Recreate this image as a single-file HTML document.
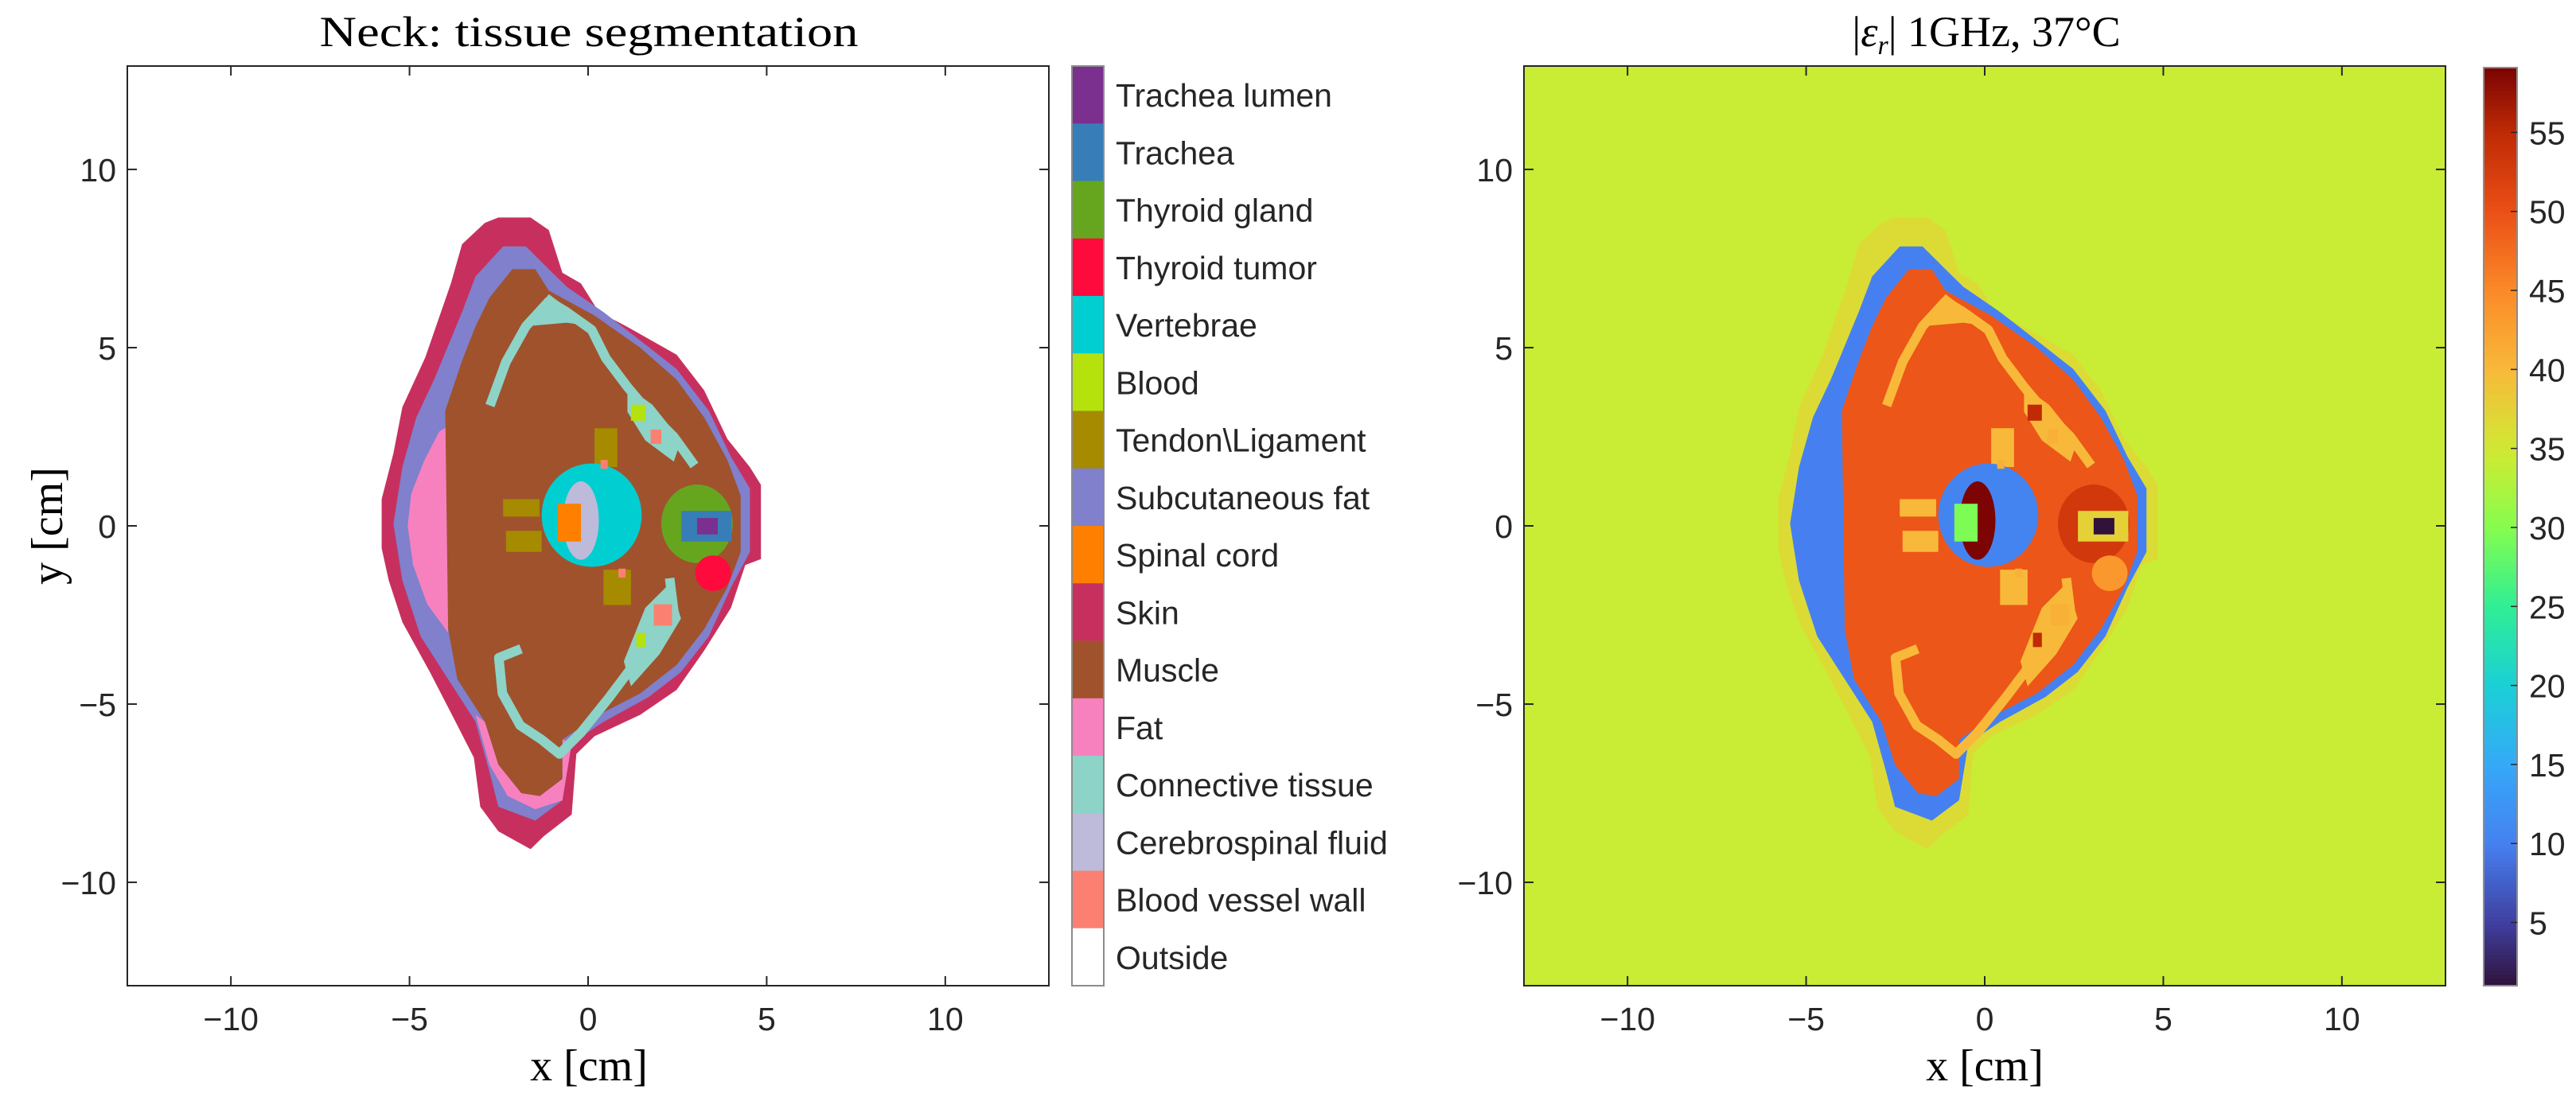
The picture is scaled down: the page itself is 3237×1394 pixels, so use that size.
<!DOCTYPE html>
<html><head><meta charset="utf-8"><style>
html,body{margin:0;padding:0;background:#fff}
svg{display:block}
.tk{font-family:"Liberation Sans",sans-serif;font-size:41px;fill:#262626}
.sf{font-family:"Liberation Serif",serif;fill:#000}
</style></head><body>
<svg id="fig" width="3237" height="1394" viewBox="0 0 3237 1394" xmlns="http://www.w3.org/2000/svg">
<g id="left"></g>
<g id="right"></g>
<text class="sf" x="740" y="58" font-size="54" text-anchor="middle" textLength="677" lengthAdjust="spacingAndGlyphs">Neck: tissue segmentation</text>
<text class="sf" x="2496" y="58" font-size="54" text-anchor="middle">|<tspan font-style="italic">ε</tspan><tspan font-style="italic" font-size="34" dy="10">r</tspan><tspan dy="-10">| 1GHz, 37°C</tspan></text>
<text class="sf" x="740" y="1358" font-size="56" text-anchor="middle">x [cm]</text>
<text class="sf" x="2494" y="1358" font-size="56" text-anchor="middle">x [cm]</text>
<text class="sf" x="0" y="0" font-size="56" text-anchor="middle" transform="translate(78,661) rotate(-90)">y [cm]</text>
</svg>
<script>
const tissueNames=["Trachea lumen","Trachea","Thyroid gland","Thyroid tumor","Vertebrae","Blood","Tendon\\Ligament","Subcutaneous fat","Spinal cord","Skin","Muscle","Fat","Connective tissue","Cerebrospinal fluid","Blood vessel wall","Outside"];
const tissueColors=["#7b2f8e","#377eb8","#66a61e","#ff0a3c","#00ced1","#b5e20c","#a68a00","#8080cc","#ff7f00","#c7305e","#a0522d","#f781bf","#8dd3c7","#bebada","#fb8072","#ffffff"];
const permittivity=[1,37.5,53,43.5,10.5,55,40,10,29.5,36.5,49.5,10,40,59,41,34.3];
const xTicks=[-10,-5,0,5,10];
const yTicks=[-10,-5,0,5,10];
const cbTicks=[5,10,15,20,25,30,35,40,45,50,55];
const cbRange=[1,59.1];
const axRange=[-12.9,12.9];
const skinPoly=[[-2.51,8.65],[-1.61,8.65],[-1.1,8.3],[-0.72,7.1],[-0.2,6.8],[0.3,6.0],[1.07,5.6],[2.48,4.8],[3.25,3.8],[3.9,2.44],[4.53,1.65],[4.84,1.15],[4.84,-0.93],[4.4,-1.1],[4.0,-2.3],[3.25,-3.5],[2.48,-4.6],[1.46,-5.3],[0.18,-5.9],[-0.33,-6.4],[-0.46,-8.1],[-1.23,-8.7],[-1.61,-9.07],[-2.51,-8.57],[-3.02,-7.88],[-3.2,-6.5],[-3.71,-5.5],[-4.43,-4.1],[-5.2,-2.7],[-5.58,-1.53],[-5.78,-0.63],[-5.78,0.75],[-5.45,2.04],[-5.2,3.33],[-4.56,4.72],[-3.84,6.8],[-3.53,7.9],[-2.89,8.5]];
const subcutPoly=[[-2.38,7.84],[-1.74,7.84],[-1.1,7.2],[-0.59,6.7],[0.43,6.0],[1.46,5.2],[2.48,4.4],[3.38,3.23],[4.0,1.94],[4.53,1.05],[4.53,-0.73],[4.0,-1.73],[3.38,-3.1],[2.6,-4.1],[1.7,-4.8],[0.43,-5.5],[-0.46,-6.1],[-0.72,-7.7],[-1.48,-8.27],[-2.51,-7.88],[-2.76,-6.9],[-3.15,-5.5],[-3.92,-4.3],[-4.69,-3.1],[-5.2,-1.53],[-5.45,0.06],[-5.2,1.65],[-4.81,3.04],[-4.3,4.13],[-3.53,6.0],[-3.15,7.0]];
const fatLeftPoly=[[-4.17,2.64],[-4.6,1.8],[-4.95,0.9],[-5.05,0],[-4.9,-1.1],[-4.5,-2.2],[-3.92,-3.0],[-3.8,0],[-3.92,2.8]];
const fatBottomPoly=[[-3.15,-5.3],[-2.76,-6.7],[-2.25,-7.58],[-1.48,-7.95],[-0.72,-7.7],[-0.46,-6.1],[-0.72,-6.0],[-0.72,-7.1],[-1.35,-7.58],[-1.87,-7.5],[-2.51,-6.7],[-2.89,-5.5]];
const musclePoly=[[-2.12,7.2],[-1.48,7.2],[-1.1,6.6],[0.18,5.9],[1.46,5.0],[2.48,4.1],[3.25,3.04],[3.9,1.85],[4.27,0.85],[4.27,-0.73],[3.9,-1.73],[3.25,-2.9],[2.48,-3.9],[1.46,-4.7],[0.3,-5.3],[-0.72,-6.0],[-0.72,-7.1],[-1.35,-7.58],[-1.87,-7.5],[-2.51,-6.7],[-2.89,-5.5],[-3.66,-4.3],[-3.92,-2.9],[-4.0,3.23],[-3.53,4.63],[-3.15,5.6],[-2.76,6.4]];
const connLineTop=[[-2.7,3.5],[-2.3,4.6],[-1.74,5.6],[-1.1,6.3],[-0.6,6.0],[0.1,5.5],[0.5,4.7],[1.1,3.9],[1.6,3.3],[2.4,2.5],[2.9,1.8]];
const connLineBottom=[[-2.0,-3.5],[-2.5,-3.7],[-2.4,-4.7],[-1.9,-5.6],[-1.3,-6.0],[-0.8,-6.4],[-0.2,-5.8],[0.6,-4.8],[1.2,-4.0],[1.7,-3.3],[2.4,-2.4],[2.3,-1.6]];
const connTopLobe=[[1.1,3.9],[1.8,3.4],[2.6,2.4],[2.4,1.8],[1.6,2.4],[1.1,3.2]];
const connBottomLobe=[[1.0,-3.8],[1.6,-2.3],[2.3,-1.6],[2.6,-2.6],[2.0,-3.6],[1.2,-4.5]];
const connTopWedge=[[-1.74,5.6],[-1.1,6.5],[0.1,5.6],[-0.6,5.7]];
const tendonRects=[[0.18,2.74,0.82,1.65],[-2.38,0.75,-1.36,0.26],[-2.3,-0.14,-1.3,-0.73],[0.43,-1.23,1.2,-2.22]];
const vertebraeEll=[0.1,0.3,1.4,1.45];
const csfEll=[-0.2,0.15,0.5,1.1];
const cordRect=[-0.85,0.62,-0.2,-0.44];
const thyroidEll=[3.05,0.06,1.0,1.1];
const tracheaRect=[2.61,0.42,4.02,-0.44];
const lumenRect=[3.05,0.22,3.63,-0.24];
const tumorEll=[3.5,-1.33,0.5,0.5];
const bloodRects=[[1.2,3.4,1.6,2.95],[1.35,-3.0,1.6,-3.4]];
const vesselRects=[[1.75,2.7,2.05,2.3],[1.84,-2.2,2.35,-2.8],[0.35,1.85,0.55,1.6],[0.85,-1.2,1.05,-1.45]];

const NS="http://www.w3.org/2000/svg";
const cmapStops=[[1,"#30123b"],[5,"#4040a0"],[10,"#4680f0"],[15,"#35a9f8"],[20,"#1bd0d5"],[25,"#30ee95"],[30,"#85fd4e"],[34.3,"#c9ec34"],[36,"#d8e035"],[40,"#f8b93a"],[45,"#fb8a28"],[50,"#ea5016"],[55,"#c02a05"],[59.1,"#7a0403"]];
function hx(c){return [parseInt(c.slice(1,3),16),parseInt(c.slice(3,5),16),parseInt(c.slice(5,7),16)];}
function cmap(v){
  if(v<=cmapStops[0][0])return cmapStops[0][1];
  for(let i=1;i<cmapStops.length;i++){
    if(v<=cmapStops[i][0]){const a=cmapStops[i-1],b=cmapStops[i];const t=(v-a[0])/(b[0]-a[0]);
      const A=hx(a[1]),B=hx(b[1]);return "rgb("+A.map((q,k)=>Math.round(q+(B[k]-q)*t)).join(",")+")";}
  }
  return cmapStops[cmapStops.length-1][1];
}
function mk(tag,attrs,parent){const e=document.createElementNS(NS,tag);for(const k in attrs)e.setAttribute(k,attrs[k]);parent.appendChild(e);return e;}
function makeAxes(g,left,colorOf,prefix,bg){
  const top=83,bottom=1239,w=1158;
  const X=x=>left+(x-axRange[0])/(axRange[1]-axRange[0])*w;
  const Y=y=>bottom-(y-axRange[0])/(axRange[1]-axRange[0])*(bottom-top);
  const bgR=mk("rect",{x:left,y:top,width:w,height:bottom-top,fill:bg},g);
  
  
  const pts=a=>a.map(p=>X(p[0]).toFixed(1)+","+Y(p[1]).toFixed(1)).join(" ");
  const poly=(arr,ti,nm)=>{const e=mk("polygon",{points:pts(arr),fill:colorOf(ti)},g);
    
    };
  const ell=(a,ti,nm)=>{const e=mk("ellipse",{cx:X(a[0]),cy:Y(a[1]),rx:X(a[2])-X(0),ry:Y(0)-Y(a[3]),fill:colorOf(ti)},g);
    
    };
  const rct=(a,ti,nm)=>{const e=mk("rect",{x:X(a[0]),y:Y(a[1]),width:X(a[2])-X(a[0]),height:Y(a[3])-Y(a[1]),fill:colorOf(ti)},g);
    
    };
  const line=(arr,ti,nm)=>{const e=mk("polyline",{points:pts(arr),fill:"none",stroke:colorOf(ti),"stroke-width":12,"stroke-linejoin":"round","stroke-linecap":"square"},g);
    
    };
  const T=n=>tissueNames.indexOf(n);
  poly(skinPoly,T("Skin"),"skin-region");
  poly(subcutPoly,T("Subcutaneous fat"),"subcutaneous-fat-region");
  poly(fatLeftPoly,T("Fat"),"fat-left-region");
  poly(fatBottomPoly,T("Fat"),"fat-bottom-region");
  poly(musclePoly,T("Muscle"),"muscle-region");
  line(connLineTop,T("Connective tissue"),"connective-tissue-top");
  line(connLineBottom,T("Connective tissue"),"connective-tissue-bottom");
  poly(connTopLobe,T("Connective tissue"),"connective-tissue-top-lobe");
  poly(connBottomLobe,T("Connective tissue"),"connective-tissue-bottom-lobe");
  poly(connTopWedge,T("Connective tissue"),"connective-tissue-wedge");
  tendonRects.forEach(r=>rct(r,T("Tendon\\Ligament"),"tendon-region"));
  ell(vertebraeEll,T("Vertebrae"),"vertebrae-region");
  ell(csfEll,T("Cerebrospinal fluid"),"csf-region");
  rct(cordRect,T("Spinal cord"),"spinal-cord-region");
  ell(thyroidEll,T("Thyroid gland"),"thyroid-gland-region");
  rct(tracheaRect,T("Trachea"),"trachea-region");
  rct(lumenRect,T("Trachea lumen"),"trachea-lumen-region");
  ell(tumorEll,T("Thyroid tumor"),"thyroid-tumor-region");
  bloodRects.forEach(r=>rct(r,T("Blood"),"blood-region"));
  vesselRects.forEach(r=>rct(r,T("Blood vessel wall"),"blood-vessel-wall-region"));
  const fr=mk("rect",{x:left,y:top,width:w,height:bottom-top,fill:"none",stroke:"#262626","stroke-width":2},g);
  
  
  xTicks.forEach(v=>{
    mk("line",{x1:X(v),x2:X(v),y1:bottom,y2:bottom-12,stroke:"#262626","stroke-width":2},g);
    mk("line",{x1:X(v),x2:X(v),y1:top,y2:top+12,stroke:"#262626","stroke-width":2},g);
    const t=mk("text",{x:X(v),y:1295,"text-anchor":"middle",class:"tk"},g);t.textContent=(v<0?"\u2212":"")+Math.abs(v);
    
    
  });
  yTicks.forEach(v=>{
    mk("line",{x1:left,x2:left+12,y1:Y(v),y2:Y(v),stroke:"#262626","stroke-width":2},g);
    mk("line",{x1:left+w,x2:left+w-12,y1:Y(v),y2:Y(v),stroke:"#262626","stroke-width":2},g);
    const t=mk("text",{x:left-14,y:Y(v)+15,"text-anchor":"end",class:"tk"},g);t.textContent=(v<0?"\u2212":"")+Math.abs(v);
    
    
  });
}
const L=document.getElementById("left"),R=document.getElementById("right");
makeAxes(L,160,i=>tissueColors[i],"left","#ffffff");
makeAxes(R,1915,i=>cmap(permittivity[i]),"right",cmap(permittivity[tissueNames.indexOf("Outside")]));
(function(){
  const x=1347,w=40,top=83,bottom=1239,n=tissueNames.length,h=(bottom-top)/n;
  tissueNames.forEach((nm,i)=>{
    const r=mk("rect",{x:x,y:top+i*h,width:w,height:h+0.5,fill:tissueColors[i]},L);
    
    
    const t=mk("text",{x:1402,y:top+i*h+h/2+15,class:"tk"},L);t.textContent=nm;
    
    
  });
  const f=mk("rect",{x:x,y:top,width:w,height:bottom-top,fill:"none",stroke:"#8c8c8c","stroke-width":2},L);
  
  
})();
(function(){
  const x=3121,w=42,top=85,bottom=1239,N=240,h=(bottom-top)/N;
  const Yc=v=>bottom-(v-cbRange[0])/(cbRange[1]-cbRange[0])*(bottom-top);
  for(let i=0;i<N;i++){
    const v=cbRange[0]+(i+0.5)/N*(cbRange[1]-cbRange[0]);
    const r=mk("rect",{x:x,y:bottom-(i+1)*h,width:w,height:h+0.6,fill:cmap(v)},R);
    
    
  }
  const f=mk("rect",{x:x,y:top,width:w,height:bottom-top,fill:"none",stroke:"#8c8c8c","stroke-width":2},R);
  
  
  cbTicks.forEach(v=>{
    mk("line",{x1:x+w,x2:x+w-8,y1:Yc(v),y2:Yc(v),stroke:"#262626","stroke-width":1.5},R);
    const t=mk("text",{x:3178,y:Yc(v)+15,class:"tk"},R);t.textContent=v;
    
    
  });
})();
</script>
</body></html>
